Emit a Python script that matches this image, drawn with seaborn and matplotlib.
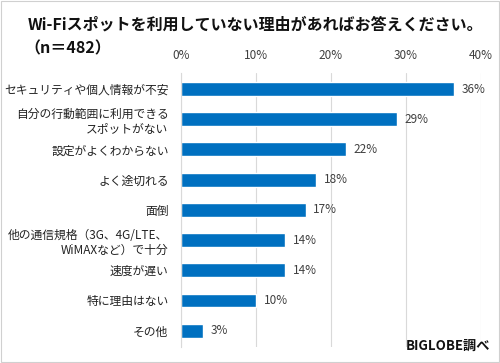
import matplotlib
matplotlib.use("Agg")
import matplotlib.pyplot as plt
import seaborn as sns
import pandas as pd

# data
reasons = [
    "セキュリティや個人情報が不安",
    "自分の行動範囲に利用できる\nスポットがない",
    "設定がよくわからない",
    "よく途切れる",
    "面倒",
    "他の通信規格（3G、4G/LTE、\nWiMAXなど）で十分",
    "速度が遅い",
    "特に理由はない",
    "その他",
]
shares = [36.4, 28.8, 22.0, 18.0, 16.6, 13.9, 13.9, 10.0, 2.9]
x_ticks = [0, 10, 20, 30, 40]
x_ticklabels = ["0%", "10%", "20%", "30%", "40%"]

df = pd.DataFrame({"reason": reasons, "share": shares})

sns.set_theme(style="white")
plt.rcParams["font.family"] = ["Noto Sans CJK JP", "DejaVu Sans"]

fig = plt.figure(figsize=(5.0, 3.63), dpi=100)
ax = fig.add_axes([181 / 500, 1 - 347 / 363, 300 / 500, 274 / 363])

sns.barplot(data=df, x="share", y="reason", color="#0070C0", saturation=1,
            width=0.46, ax=ax, orient="h")

for i, v in enumerate(shares):
    ax.text(v + 1.0, i, f"{v:.0f}%", va="center", ha="left",
            fontsize=8.5, color="#404040")

ax.set_xlim(0, 40)
ax.set_ylim(8.54, -0.53)
ax.set_xticks(x_ticks)
ax.set_xticklabels(x_ticklabels, fontsize=8.5, color="#404040")
ax.xaxis.tick_top()
ax.tick_params(axis="x", length=0, pad=8)
ax.tick_params(axis="y", length=0, pad=9, labelsize=8.5, labelcolor="#222222")
for lab in ax.get_yticklabels():
    lab.set_horizontalalignment("right")
    lab.set_multialignment("right")
ax.set_xlabel("")
ax.set_ylabel("")
ax.grid(axis="x", color="#d9d9d9", linewidth=0.8)
ax.set_axisbelow(True)
for s in ["top", "right", "bottom"]:
    ax.spines[s].set_visible(False)
ax.spines["left"].set_color("#d9d9d9")
ax.spines["left"].set_linewidth(0.8)

fig.text(28 / 500, 1 - 25 / 363, "Wi-Fiスポットを利用していない理由があればお答えください。",
         fontsize=11.5, fontweight="bold", va="center", ha="left", color="#111111")
fig.text(24 / 500, 1 - 48 / 363, "（n＝482）",
         fontsize=11.5, fontweight="bold", va="center", ha="left", color="#111111")
fig.text(490 / 500, 1 - 346 / 363, "BIGLOBE調べ",
         fontsize=9.5, fontweight="bold", va="center", ha="right", color="#111111")

# light border around the chart
fig.patches.append(plt.Rectangle((0.002, 0.003), 0.995, 0.994, transform=fig.transFigure,
                                 fill=False, edgecolor="#d0d0d0", linewidth=0.8))

fig.savefig("out.png", dpi=100)
